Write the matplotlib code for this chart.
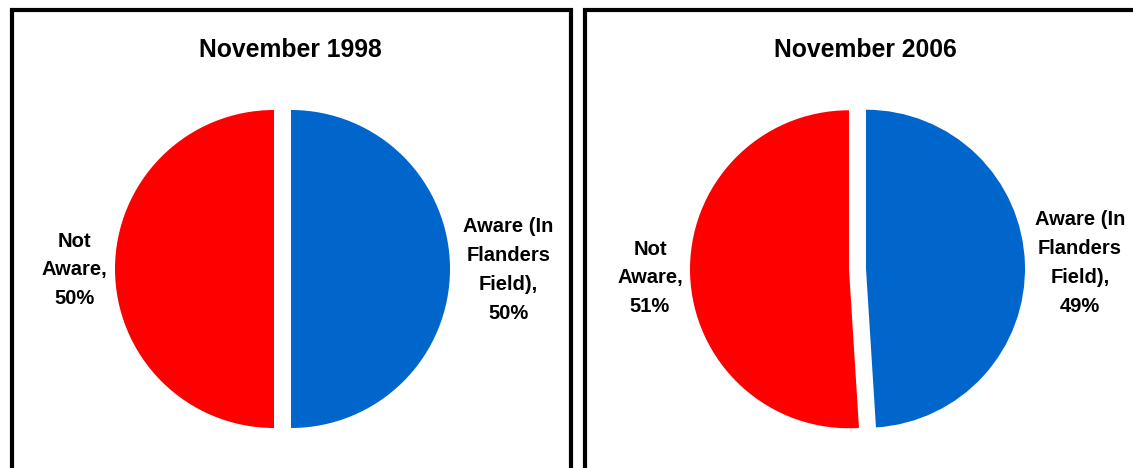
import matplotlib.pyplot as plt
from matplotlib.patches import Rectangle

plt.rcParams['font.family'] = ['Liberation Sans', 'DejaVu Sans']

# data
titles = ["November 1998", "November 2006"]
aware_label = "Aware (In\nFlanders\nField)"
not_aware_label = "Not\nAware"
aware = [50, 49]
not_aware = [50, 51]

blue = "#0066CC"
red = "#FF0000"

W, H = 1133, 468
fig = plt.figure(figsize=(W / 100, H / 100), dpi=100)
ax = fig.add_axes([0, 0, 1, 1])

# panel layout in pixel units (y measured from the top of the image)
panels = [
    dict(box=(12, 570.5), title_x=290.5, cx=282.5, left_x=74.5, left_y=270, right_x=508.5, right_y=270),
    dict(box=(585.3, 1160), title_x=865, cx=857.5, left_x=650, left_y=278, right_x=1080, right_y=263),
]

for i, p in enumerate(panels):
    x0, x1 = p['box']
    ax.add_patch(Rectangle((x0, -30), x1 - x0, H - 10.3 + 30, fill=False,
                           edgecolor='black', linewidth=3.0, joinstyle='miter'))
    ax.text(p['title_x'], H - 57, titles[i], ha='center', va='baseline',
            fontsize=17.8, fontweight='bold')
    ax.pie([aware[i], not_aware[i]], colors=[blue, red], startangle=90,
           counterclock=False, center=(p['cx'], H - 269), radius=159,
           explode=[8.5, 8.5], wedgeprops=dict(linewidth=0), frame=True)
    ax.text(p['left_x'], H - p['left_y'], f"{not_aware_label},\n{not_aware[i]}%",
            ha='center', va='center', multialignment='center',
            fontsize=14.5, fontweight='bold', linespacing=1.65)
    ax.text(p['right_x'], H - p['right_y'], f"{aware_label},\n{aware[i]}%",
            ha='center', va='center', multialignment='center',
            fontsize=14.5, fontweight='bold', linespacing=1.65)

ax.set_xlim(0, W)
ax.set_ylim(0, H)
ax.set_aspect('auto')
ax.axis('off')

fig.savefig('out.png', dpi=100, facecolor='white')
